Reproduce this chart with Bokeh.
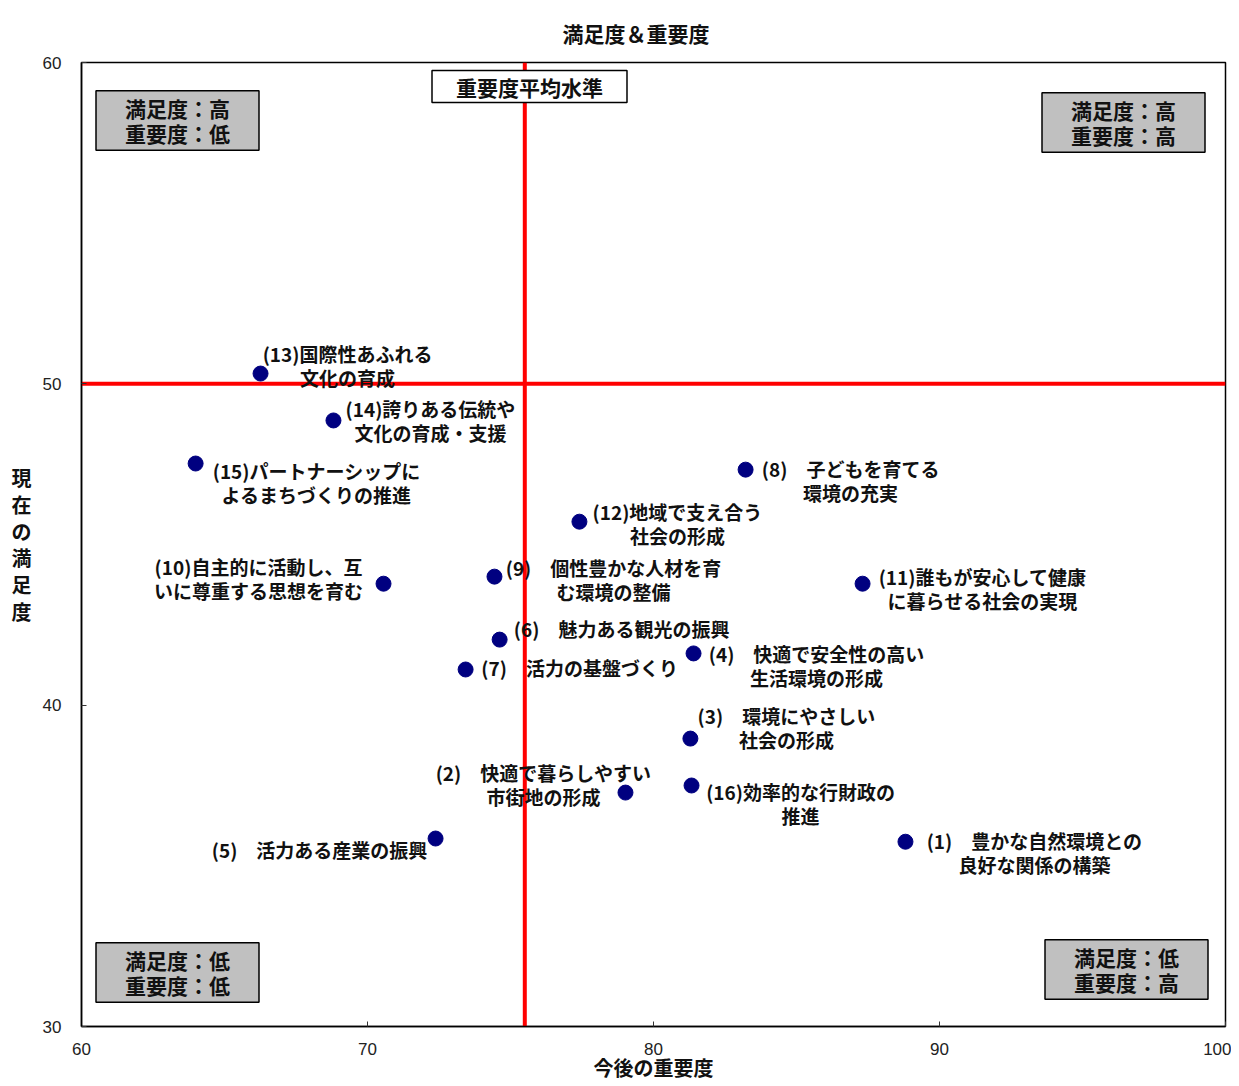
from bokeh.plotting import figure
from bokeh.models import Span, Label, FixedTicker, ColumnDataSource
from bokeh.core.properties import value
from bokeh.embed import file_html
from bokeh.resources import INLINE

# ---------------- data ----------------
item_numbers = list(range(1, 17))
item_names = [
    "豊かな自然環境との\n良好な関係の構築",
    "快適で暮らしやすい\n市街地の形成",
    "環境にやさしい\n社会の形成",
    "快適で安全性の高い\n生活環境の形成",
    "活力ある産業の振興",
    "魅力ある観光の振興",
    "活力の基盤づくり",
    "子どもを育てる\n環境の充実",
    "個性豊かな人材を育\nむ環境の整備",
    "自主的に活動し、互\nいに尊重する思想を育む",
    "誰もが安心して健康\nに暮らせる社会の実現",
    "地域で支え合う\n社会の形成",
    "国際性あふれる\n文化の育成",
    "誇りある伝統や\n文化の育成・支援",
    "パートナーシップに\nよるまちづくりの推進",
    "効率的な行財政の\n推進",
]
importance = [88.81, 79.02, 81.29, 81.40, 72.38, 74.62, 73.43, 83.22,
              74.44, 70.56, 87.31, 77.41, 66.26, 68.81, 63.99, 81.33]
satisfaction = [35.75, 37.28, 38.96, 41.61, 35.85, 42.04, 41.11, 47.33,
                44.00, 43.78, 43.78, 45.71, 50.32, 48.86, 47.52, 37.50]
importance_avg = 75.5
satisfaction_avg = 50.0
x_ticks = [60, 70, 80, 90, 100]
y_ticks = [30, 40, 50, 60]

# ---------------- layout (label offsets in pixels, separate from data) ----------------
label_dx = [129, -82, 96, 123, -116, 122, 114, 105, 119, -125, 120, 98, 87, 97, 121, 109]
label_dy = [11, -8, -11, 12, 11, -11, -2, 11, 3, -5, 5, 2, -8, 0, 19, 18]

JP = "Noto Sans CJK JP"


def make_label(n, name):
    prefix = f"({n})" + ("\u3000" if n < 10 else "")
    return prefix + name


labels = [make_label(n, s) for n, s in zip(item_numbers, item_names)]

src = ColumnDataSource(dict(x=importance, y=satisfaction, label=labels,
                            dx=label_dx, dy=label_dy))

p = figure(width=1231, height=1086, x_range=(60, 100), y_range=(30, 60),
           output_backend="svg", toolbar_location=None,
           min_border_left=81, min_border_right=6, min_border_top=62,
           min_border_bottom=60)

p.title.text = "満足度＆重要度"
p.title.align = "left"
p.title.text_font = JP
p.title.text_font_size = "21px"
p.title.text_font_style = "bold"
p.title.text_color = "#111111"
p.title.offset = 481
p.title.standoff = 29

p.xgrid.visible = False
p.ygrid.visible = False
p.outline_line_color = "black"
p.outline_line_width = 1.5
p.background_fill_color = "white"
p.border_fill_color = "white"

p.xaxis.ticker = FixedTicker(ticks=x_ticks)
p.yaxis.ticker = FixedTicker(ticks=y_ticks)
for ax in (p.xaxis, p.yaxis):
    ax.major_label_text_font = "Liberation Sans"
    ax.major_label_text_font_size = "17px"
    ax.major_label_text_color = "#222222"
    ax.major_tick_in = 5
    ax.major_tick_out = 0
    ax.minor_tick_line_color = None
    ax.axis_line_color = "black"
    ax.axis_line_width = 1.5
    ax.major_tick_line_color = "#333333"
    ax.axis_label_text_font = JP
    ax.axis_label_text_font_style = "bold"
    ax.axis_label_text_font_size = "20px"
    ax.axis_label_text_color = "#111111"

p.xaxis.major_label_standoff = 16
p.yaxis.major_label_standoff = 20
p.xaxis.axis_label = "今後の重要度"
p.xaxis.axis_label_standoff = -5
p.yaxis.axis_label = "現\n在\nの\n満\n足\n度"
p.yaxis.axis_label_orientation = "horizontal"
p.yaxis.axis_label_text_line_height = 0.92
p.yaxis.axis_label_standoff = 8

# average lines
p.add_layout(Span(location=importance_avg, dimension="height", line_color="#ff0000",
                  line_width=4, level="underlay"))
p.add_layout(Span(location=satisfaction_avg, dimension="width", line_color="#ff0000",
                  line_width=4, level="underlay"))

# points
p.scatter("x", "y", source=src, size=15, fill_color="#000080", line_color="#000080")

# point labels
p.text(x="x", y="y", text="label", x_offset="dx", y_offset="dy", source=src,
       text_font=value(JP), text_font_style="bold", text_font_size="19px",
       text_align="center", text_baseline="middle", text_line_height=0.87,
       text_color="#111111")


def box_label(text, x, y, fill, pad):
    lab = Label(x=x, y=y, x_units="screen", y_units="screen", text=text,
                text_font=JP, text_font_size="21px", text_font_style="bold",
                text_align="center", text_baseline="middle",
                text_line_height=0.855, text_color="#111111",
                background_fill_color=fill, border_line_color="black",
                border_line_width=1.5, padding=pad)
    p.add_layout(lab)
    return lab


# quadrant boxes
box_label("満足度：高\n重要度：低", 96, 906, "#c0c0c0", (29, 2))
box_label("満足度：高\n重要度：高", 1042, 904, "#c0c0c0", (29, 2))
box_label("満足度：低\n重要度：低", 96, 54, "#c0c0c0", (29, 2))
box_label("満足度：低\n重要度：高", 1045, 57, "#c0c0c0", (29, 2))
box_label("重要度平均水準", 448, 940, "white", (24, 1))

open("out.html", "w").write(file_html(p, INLINE))
